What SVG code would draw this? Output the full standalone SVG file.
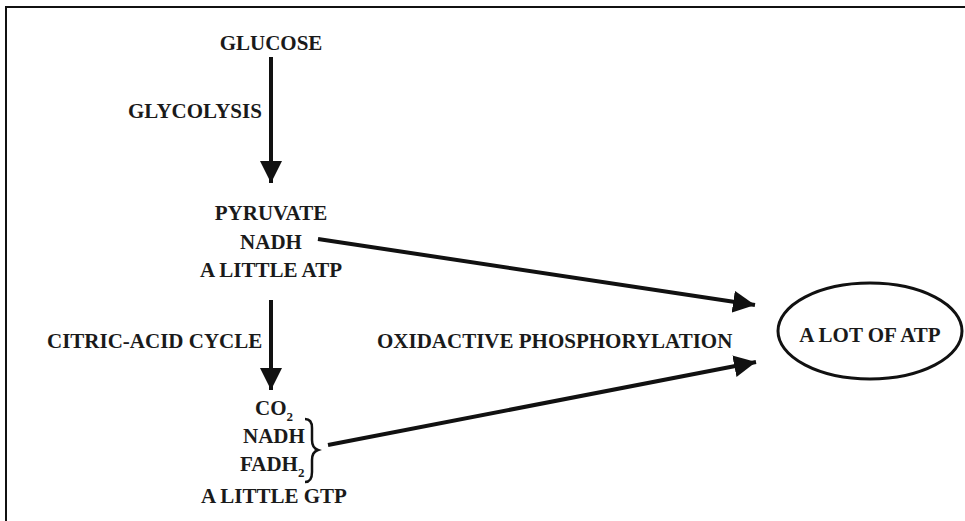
<svg xmlns="http://www.w3.org/2000/svg" width="965" height="521" viewBox="0 0 965 521">
<style>
text{font-family:"Liberation Serif","Times New Roman",serif;font-weight:bold;font-size:21px;fill:#1a1a1a}
.c{text-anchor:middle}
.ln{stroke:#111;stroke-width:4;fill:none}
.sub{font-size:13px}
</style>
<defs>
<marker id="ah" viewBox="0 0 10 10" refX="10" refY="5" markerWidth="5.5" markerHeight="5.5" markerUnits="strokeWidth" orient="auto">
<path d="M0,0 L10,5 L0,10 Z" fill="#111"/>
</marker>
</defs>
<rect width="965" height="521" fill="#fff"/>
<path d="M6,521 V7 H965" fill="none" stroke="#111" stroke-width="2"/>
<g id="glucose"><text class="c" x="271" y="50">GLUCOSE</text></g>
<g id="glycolysis"><text x="128" y="118">GLYCOLYSIS</text></g>
<g id="pyruvate">
<text class="c" x="271" y="220">PYRUVATE</text>
<text class="c" x="271" y="249">NADH</text>
<text class="c" x="271" y="277">A LITTLE ATP</text>
</g>
<g id="citric"><text x="47" y="348">CITRIC-ACID CYCLE</text></g>
<g id="oxphos"><text x="377" y="348">OXIDACTIVE PHOSPHORYLATION</text></g>
<g id="products">
<text x="255" y="415">CO<tspan class="sub" dy="6">2</tspan></text>
<text x="243" y="443">NADH</text>
<text x="240" y="471">FADH<tspan class="sub" dy="6">2</tspan></text>
<path d="M305,419 Q312,419 312,428 L312,440 Q312,448 318,450 Q312,452 312,460 L312,472 Q312,482 305,482" fill="none" stroke="#111" stroke-width="2.5"/>
<text class="c" x="274" y="503">A LITTLE GTP</text>
</g>
<g id="lotatp">
<ellipse cx="870" cy="331" rx="92" ry="48" fill="none" stroke="#111" stroke-width="3"/>
<text class="c" x="870" y="342" font-size="20">A LOT OF ATP</text>
</g>
<g id="connectors">
<line class="ln" x1="271" y1="57" x2="271" y2="183" marker-end="url(#ah)"/>
<line class="ln" x1="271" y1="300" x2="271" y2="390" marker-end="url(#ah)"/>
<line class="ln" x1="318" y1="239" x2="755" y2="305" marker-end="url(#ah)"/>
<line class="ln" x1="328" y1="445" x2="756" y2="362" marker-end="url(#ah)"/>
</g>
</svg>
